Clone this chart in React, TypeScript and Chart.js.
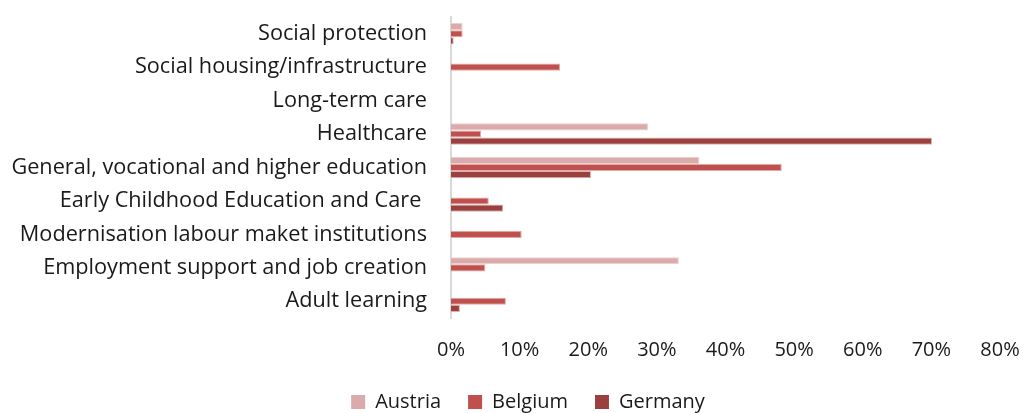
import React, { useEffect, useRef } from "react";
import { Chart, registerables } from "chart.js";

Chart.register(...registerables);

const categories = [
  "Social protection",
  "Social housing/infrastructure",
  "Long-term care",
  "Healthcare",
  "General, vocational and higher education",
  "Early Childhood Education and Care ",
  "Modernisation labour maket institutions",
  "Employment support and job creation",
  "Adult learning",
];

const austria = [1.7, null, null, 28.7, 36.2, null, null, 33.2, null];
const belgium = [1.7, 15.9, null, 4.4, 48.2, 5.5, 10.3, 5.0, 8.0];
const germany = [0.4, null, null, 70.1, 20.4, 7.6, null, null, 1.3];

const xTicks = [0, 10, 20, 30, 40, 50, 60, 70, 80];

const FONT = "'Open Sans', 'Noto Sans', sans-serif";

const legendShift = {
  id: "legendShift",
  afterLayout(c: any) {
    if (c.legend) {
      c.legend.left += 28;
      c.legend.right += 28;
    }
  },
};

export default function App() {
  const ref = useRef<HTMLCanvasElement | null>(null);
  useEffect(() => {
    if (!ref.current) return;
    const chart = new Chart(ref.current, {
      type: "bar",
      plugins: [legendShift],
      data: {
        labels: categories,
        datasets: [
          { label: "Austria", data: austria, backgroundColor: "#dbaaab", borderColor: "#ecd0d0", borderWidth: 1 },
          { label: "Belgium", data: belgium, backgroundColor: "#c0504d", borderColor: "#e2a9a7", borderWidth: 1 },
          { label: "Germany", data: germany, backgroundColor: "#9c403f", borderColor: "#d8b3b2", borderWidth: 1 },
        ],
      },
      options: {
        indexAxis: "y",
        animation: false,
        responsive: false,
        maintainAspectRatio: false,
        layout: { padding: { top: 17, right: 26, left: 0, bottom: -9 } },
        datasets: { bar: { categoryPercentage: 0.64, barPercentage: 1 } },
        scales: {
          x: {
            min: 0,
            max: 80,
            afterBuildTicks: (axis: any) => {
              axis.ticks = xTicks.map((v) => ({ value: v }));
            },
            afterFit: (axis: any) => {
              axis.height = 47;
              axis.paddingRight = 0;
              axis.paddingLeft = 0;
            },
            grid: { display: false, drawTicks: false },
            border: { display: false },
            ticks: {
              padding: 20,
              color: "#1a1a1a",
              font: { family: FONT, size: 20 },
              callback: (v: any) => v + "%",
              maxRotation: 0,
            },
          },
          y: {
            afterFit: (axis: any) => {
              axis.paddingTop = 0;
              axis.paddingBottom = 0;
              axis.width = 451;
            },
            grid: { display: false, drawTicks: false },
            border: { display: true, color: "#d9d9d9", width: 2 },
            ticks: {
              padding: 24,
              color: "#1a1a1a",
              font: { family: FONT, size: 21.7 },
              autoSkip: false,
            },
          },
        },
        plugins: {
          legend: {
            position: "bottom",
            labels: {
              color: "#1a1a1a",
              font: { family: FONT, size: 20 },
              boxWidth: 14,
              boxHeight: 14,
              padding: 27,
              generateLabels: (c: any) =>
                Chart.defaults.plugins.legend.labels
                  .generateLabels(c)
                  .map((l: any) => ({ ...l, lineWidth: 0 })),
            },
          },
          tooltip: { enabled: false },
        },
      },
    });
    return () => chart.destroy();
  }, []);
  return (
    <div style={{ position: "fixed", left: 0, top: 0, width: 1026, height: 413, background: "#fff" }}>
      <canvas ref={ref} width={1026} height={413} style={{ width: 1026, height: 413 }} />
    </div>
  );
}
